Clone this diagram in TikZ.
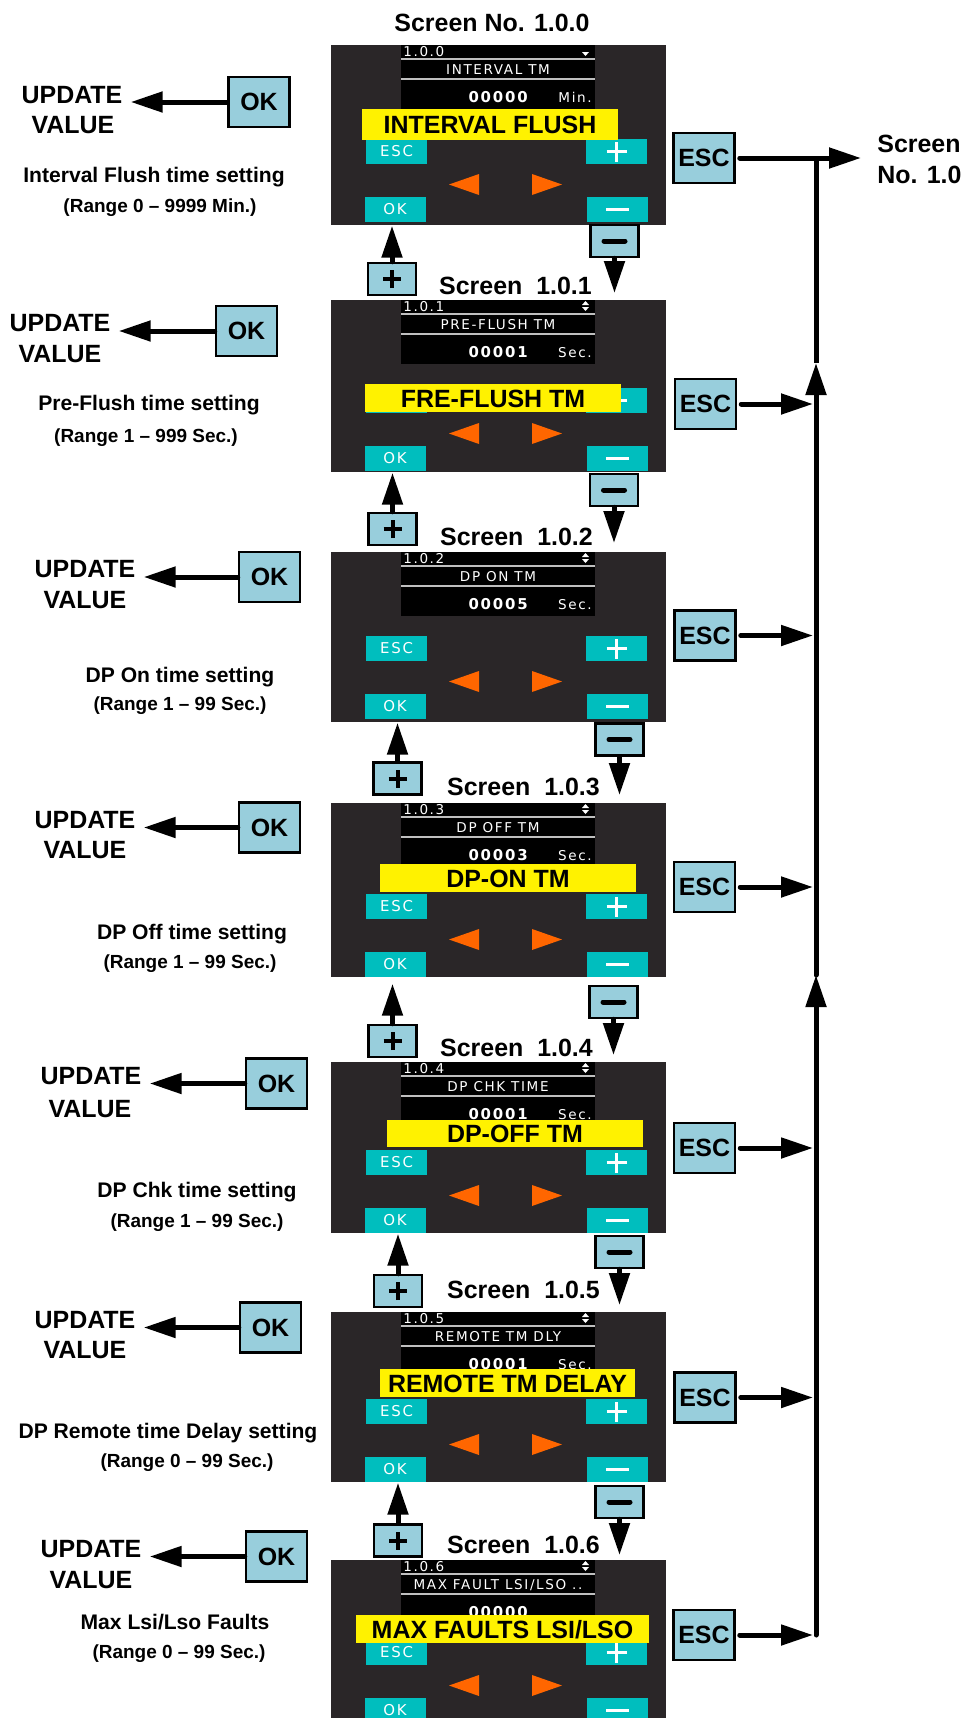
\documentclass[tikz,border=0pt]{standalone}
\usepackage{fontspec}
\setmainfont{Liberation Sans}
\newfontfamily\lcdfont[LetterSpace=12]{DejaVu Sans}
\usetikzlibrary{arrows.meta, positioning}

\definecolor{lcdgrey}{RGB}{42,38,40}
\definecolor{keyteal}{RGB}{0,190,190}
\definecolor{keyorange}{RGB}{255,102,0}
\definecolor{boxblue}{RGB}{152,206,220}

\newcommand{\txtbig}{\bfseries\fontsize{14.2}{17.6}\selectfont}
\newcommand{\txtdesc}{\bfseries\fontsize{12}{14}\selectfont}
\newcommand{\txtrange}{\bfseries\fontsize{10.8}{13}\selectfont}
\newcommand{\txtkey}{\lcdfont\fontsize{8.5}{9}\selectfont}
\newcommand{\esclabel}{ESC}

% one LCD panel: name, top, key row, bottom, id, title, value, unit
\newcommand{\lcdscreen}[8]{%
  \node[panel, minimum height={(#4-#2)*0.2mm}, anchor=north west] (#1) at (331,#2) {};
  \fill[black] (401,#2) rectangle (595,#2+64);
  \node[lcdtext, anchor=base west] (#1-id) at (403,#2+11) {#5};
  \fill[white] (582,#2+7) -- (589,#2+7) -- (585.5,#2+11) -- cycle;
  \draw[white!75!black, line width=0.3mm] (401,#2+14) -- (595,#2+14);
  \node[lcdtext, anchor=base] (#1-title) at (498,#2+29) {#6};
  \draw[white!75!black, line width=0.3mm] (401,#2+34) -- (595,#2+34);
  \node[lcdvalue, anchor=base east] (#1-value) at (528,#2+57) {#7};
  \node[lcdtext, anchor=base east] (#1-unit) at (592,#2+57) {#8};
  \node[tealkey] (#1-esc) at (396.5,#3+12.5) {\esclabel};
  \node[tealplus] (#1-plus) at (616.5,#3+12.5) {};
  \fill[keyorange] (449,#3+45.5) -- (479,#3+35) -- (479,#3+56) -- cycle;
  \fill[keyorange] (532,#3+35) -- (562,#3+45.5) -- (532,#3+56) -- cycle;
  \node[tealkey] (#1-ok) at (395,#3+70.5) {OK};
  \node[tealminus] (#1-minus) at (617.5,#3+70.5) {};
}

\begin{document}
\begin{tikzpicture}[x=0.2mm, y=-0.2mm,
  panel/.style={fill=lcdgrey, minimum width=67mm, inner sep=0pt},
  tealkey/.style={fill=keyteal, minimum width=12.2mm, minimum height=5mm, inner sep=0pt, text=white, font=\txtkey},
  tealplus/.style={tealkey, path picture={
    \draw[white, line width=0.5mm] ([xshift=-2mm]path picture bounding box.center) -- ([xshift=2mm]path picture bounding box.center)
      ([yshift=-2mm]path picture bounding box.center) -- ([yshift=2mm]path picture bounding box.center);}},
  tealminus/.style={tealkey, path picture={
    \draw[white, line width=0.5mm] ([xshift=-2.3mm]path picture bounding box.center) -- ([xshift=2.3mm]path picture bounding box.center);}},
  lcdtext/.style={text=white, inner sep=0pt, font=\lcdfont\fontsize{7.7}{9}\selectfont},
  lcdvalue/.style={text=white, inner sep=0pt, font=\lcdfont\bfseries\fontsize{8.5}{10}\selectfont},
  keybox/.style={draw, line width=0.5mm, fill=boxblue, inner sep=0pt, font=\txtbig},
  okbox/.style={keybox, minimum width=12.2mm, minimum height=10mm},
  pmbox/.style={keybox, minimum width=9.6mm, minimum height=6.4mm},
  plusbox/.style={pmbox, path picture={
    \draw[line width=0.8mm] ([xshift=-1.8mm]path picture bounding box.center) -- ([xshift=1.8mm]path picture bounding box.center)
      ([yshift=-1.8mm]path picture bounding box.center) -- ([yshift=1.8mm]path picture bounding box.center);}},
  minusbox/.style={pmbox, path picture={
    \draw[line width=1mm, line cap=round] ([xshift=-2.1mm]path picture bounding box.center) -- ([xshift=2.1mm]path picture bounding box.center);}},
  biglabel/.style={inner sep=0pt, font=\txtbig},
  desc/.style={inner sep=0pt, font=\txtdesc},
  rangetext/.style={inner sep=0pt, font=\txtrange},
  flash/.style={fill=yellow, inner sep=0pt, text height=3.6mm, text depth=0pt, font=\txtbig},
  arr/.style={line width=1mm, line cap=round, -{Triangle[length=6.4mm, width=4mm]}}
]
\useasboundingbox (0,0) rectangle (966,1718);
\clip (0,0) rectangle (966,1718);

% screens
\lcdscreen{s0}{45}{139}{225}{1.0.0}{INTERVAL TM}{00000}{Min.}
\renewcommand{\esclabel}{}
\lcdscreen{s1}{300}{388}{472}{1.0.1}{PRE-FLUSH TM}{00001}{Sec.}
\renewcommand{\esclabel}{ESC}
\lcdscreen{s2}{552}{636}{722}{1.0.2}{DP ON TM}{00005}{Sec.}
\lcdscreen{s3}{803}{894}{977}{1.0.3}{DP OFF TM}{00003}{Sec.}
\lcdscreen{s4}{1062}{1150}{1233}{1.0.4}{DP CHK TIME}{00001}{Sec.}
\lcdscreen{s5}{1312}{1399}{1482}{1.0.5}{REMOTE TM DLY}{00001}{Sec.}
\lcdscreen{s6}{1560}{1640}{1740}{1.0.6}{MAX FAULT LSI/LSO ..}{00000}{}
\foreach \t in {300,552,803,1062,1312,1560}
  \fill[white] (582,\t+5) -- (589,\t+5) -- (585.5,\t+1) -- cycle;

% yellow captions
\node[flash, minimum width=51.2mm, minimum height=6.2mm] (fl0) at (490,124.5) {INTERVAL FLUSH};
\node[flash, minimum width=51.2mm, minimum height=5.6mm] (fl1) at (493,398) {FRE-FLUSH TM};
\node[flash, minimum width=51.2mm, minimum height=5.6mm] (fl3) at (508,878) {DP-ON TM};
\node[flash, minimum width=51.2mm, minimum height=5.4mm] (fl4) at (515,1133.5) {DP-OFF TM};
\node[flash, minimum width=51mm, minimum height=5.6mm] (fl5) at (507.5,1383) {REMOTE TM DELAY};
\node[flash, minimum width=58.6mm, minimum height=5.6mm] (fl6) at (502.5,1629) {MAX FAULTS LSI/LSO};

% screen titles
\node[biglabel, anchor=base] (ttl0) at (492,31) {Screen No. 1.0.0};
\node[biglabel, anchor=base] (ttl1) at (515.5,294) {Screen\ \ 1.0.1};
\node[biglabel, anchor=base] (ttl2) at (516.5,545) {Screen\ \ 1.0.2};
\node[biglabel, anchor=base] (ttl3) at (523.5,795) {Screen\ \ 1.0.3};
\node[biglabel, anchor=base] (ttl4) at (516.5,1056) {Screen\ \ 1.0.4};
\node[biglabel, anchor=base] (ttl5) at (523.5,1298) {Screen\ \ 1.0.5};
\node[biglabel, anchor=base] (ttl6) at (523.5,1553) {Screen\ \ 1.0.6};

% minus down, plus up
\node[minusbox] (minus0) at (614.5,241) {};
\node[minusbox] (minus1) at (614,490) {};
\node[minusbox] (minus2) at (619.5,739.5) {};
\node[minusbox] (minus3) at (613.5,1002) {};
\node[minusbox] (minus4) at (619.5,1252) {};
\node[minusbox] (minus5) at (619.5,1502) {};
\node[plusbox] (plus1) at (392,279) {};
\node[plusbox] (plus2) at (392.5,529) {};
\node[plusbox] (plus3) at (397.5,778.5) {};
\node[plusbox] (plus4) at (392.5,1041) {};
\node[plusbox] (plus5) at (398,1291) {};
\node[plusbox] (plus6) at (398,1540.5) {};

\draw[arr] (minus0.south) -- ([yshift=1.4mm]minus0.south |- s1.north);
\draw[arr] (minus1.south) -- ([yshift=1.8mm]minus1.south |- s2.north);
\draw[arr] (minus2.south) -- ([yshift=1.6mm]minus2.south |- s3.north);
\draw[arr] (minus3.south) -- ([yshift=1.4mm]minus3.south |- s4.north);
\draw[arr] (minus4.south) -- ([yshift=1.4mm]minus4.south |- s5.north);
\draw[arr] (minus5.south) -- ([yshift=1mm]minus5.south |- s6.north);
\draw[arr] (plus1.north) -- (plus1.north |- s0.south);
\draw[arr] (plus2.north) -- (plus2.north |- s1.south);
\draw[arr] (plus3.north) -- (plus3.north |- s2.south);
\draw[arr] (plus4.north) -- ([yshift=-1.2mm]plus4.north |- s3.south);
\draw[arr] (plus5.north) -- (plus5.north |- s4.south);
\draw[arr] (plus6.north) -- (plus6.north |- s5.south);

% left column: OK -> update value
\node[biglabel, anchor=base, inner xsep=1.6mm] (upd0) at (72,103) {UPDATE};
\node[biglabel, anchor=base] (val0) at (73,133) {VALUE};
\node[okbox] (ok0) at (259,102) {OK};
\node[desc, anchor=base] (dsc0) at (154,182) {Interval Flush time setting};
\node[rangetext, anchor=base] (rng0) at (160,212) {(Range 0 -- 9999 Min.)};

\node[biglabel, anchor=base, inner xsep=1.6mm] (upd1) at (60,331) {UPDATE};
\node[biglabel, anchor=base] (val1) at (60,362) {VALUE};
\node[okbox] (ok1) at (246.5,331) {OK};
\node[desc, anchor=base] (dsc1) at (149,410) {Pre-Flush time setting};
\node[rangetext, anchor=base] (rng1) at (146,442) {(Range 1 -- 999 Sec.)};

\node[biglabel, anchor=base, inner xsep=1.6mm] (upd2) at (85,577) {UPDATE};
\node[biglabel, anchor=base] (val2) at (85,608) {VALUE};
\node[okbox] (ok2) at (269.5,577) {OK};
\node[desc, anchor=base] (dsc2) at (180,682) {DP On time setting};
\node[rangetext, anchor=base] (rng2) at (180,710) {(Range 1 -- 99 Sec.)};

\node[biglabel, anchor=base, inner xsep=1.6mm] (upd3) at (85,828) {UPDATE};
\node[biglabel, anchor=base] (val3) at (85,858) {VALUE};
\node[okbox] (ok3) at (269.5,827.5) {OK};
\node[desc, anchor=base] (dsc3) at (192,939) {DP Off time setting};
\node[rangetext, anchor=base] (rng3) at (190,968) {(Range 1 -- 99 Sec.)};

\node[biglabel, anchor=base, inner xsep=1.6mm] (upd4) at (91,1084) {UPDATE};
\node[biglabel, anchor=base] (val4) at (90,1117) {VALUE};
\node[okbox] (ok4) at (276.5,1083.5) {OK};
\node[desc, anchor=base] (dsc4) at (197,1197) {DP Chk time setting};
\node[rangetext, anchor=base] (rng4) at (197,1227) {(Range 1 -- 99 Sec.)};

\node[biglabel, anchor=base, inner xsep=1.6mm] (upd5) at (85,1328) {UPDATE};
\node[biglabel, anchor=base] (val5) at (85,1358) {VALUE};
\node[okbox] (ok5) at (270.5,1327.5) {OK};
\node[desc, anchor=base] (dsc5) at (168,1438) {DP Remote time Delay setting};
\node[rangetext, anchor=base] (rng5) at (187,1467) {(Range 0 -- 99 Sec.)};

\node[biglabel, anchor=base, inner xsep=1.6mm] (upd6) at (91,1557) {UPDATE};
\node[biglabel, anchor=base] (val6) at (91,1588) {VALUE};
\node[okbox] (ok6) at (276.5,1556.5) {OK};
\node[desc, anchor=base] (dsc6) at (175,1629) {Max Lsi/Lso Faults};
\node[rangetext, anchor=base] (rng6) at (179,1658) {(Range 0 -- 99 Sec.)};

\foreach \i in {0,...,6}
  \draw[arr] (ok\i.west) -- (ok\i.west -| upd\i.east);

% right column: ESC -> back
\node[okbox] (esc0) at (704,158) {ESC};
\node[okbox] (esc1) at (705.5,404) {ESC};
\node[okbox] (esc2) at (705,635.5) {ESC};
\node[okbox] (esc3) at (704.5,887) {ESC};
\node[okbox] (esc4) at (704.5,1148) {ESC};
\node[okbox] (esc5) at (705,1397.5) {ESC};
\node[okbox] (esc6) at (704,1635) {ESC};
\node[biglabel, align=left, anchor=north west, inner xsep=3.2mm, inner ysep=1mm] (back) at (861,130) {Screen\\No. 1.0};

\coordinate (bus0) at (816,158);
\coordinate (busup1) at (816,363);
\coordinate (busup2) at (816,975);
\foreach \i/\y in {1/404,2/635.5,3/887,4/1148,5/1397.5,6/1635}
  \coordinate (bus\i) at (816,\y);

\draw[arr, shorten <=0.8mm] (esc0.east) -- (esc0.east -| back.west);
\foreach \i in {1,...,6}
  \draw[arr, shorten <=0.8mm, shorten >=0.6mm] (esc\i.east) -- (bus\i);
\draw[arr] (bus6) -- (busup2);
\draw[arr] (busup2) -- (busup1);
\draw[line width=1mm] (busup1) -- (bus0);
\end{tikzpicture}
\end{document}
